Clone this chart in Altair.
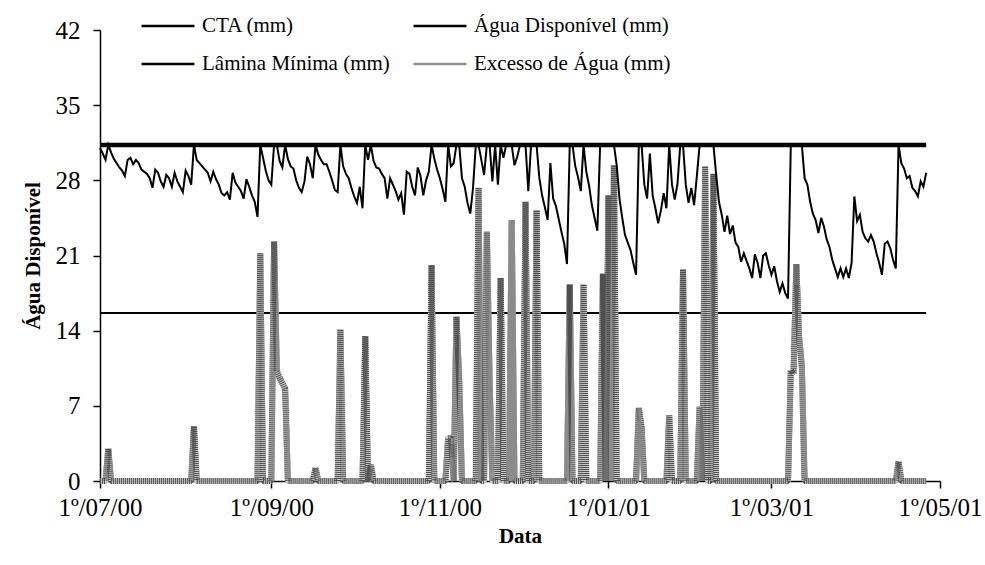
import altair as alt
import pandas as pd

# ---------------- data ----------------
START_DATE = "2000-07-01"

# daily available water (mm), 1 Jul 2000 .. 26 Apr 2001
agua_disponivel = [
    31.0, 30.5, 29.9, 31.3, 30.6, 30.0, 29.6, 29.2, 28.9, 28.4,
    29.9, 30.1, 29.5, 29.9, 29.6, 29.0, 28.8, 28.6, 28.2, 27.3,
    29.0, 28.7, 27.9, 27.4, 28.5, 28.2, 27.4, 28.7, 27.9, 27.4,
    26.9, 28.9, 28.4, 27.6, 31.3, 29.9, 29.6, 29.3, 29.0, 28.7,
    27.9, 28.8, 28.1, 27.6, 26.8, 26.6, 26.9, 26.2, 28.7, 27.8,
    27.4, 27.0, 26.3, 28.1, 27.4, 26.6, 26.0, 24.6, 31.3, 30.1,
    28.9, 28.0, 27.6, 31.3, 31.3, 29.8, 29.2, 31.3, 30.0, 29.3,
    29.1, 28.0, 27.3, 26.9, 27.9, 30.2, 29.5, 28.2, 31.3, 30.4,
    29.9, 29.5, 29.5, 28.8, 28.0, 27.1, 26.9, 31.3, 29.3, 28.6,
    28.2, 27.3, 26.5, 25.9, 27.4, 25.4, 31.3, 29.9, 31.3, 29.8,
    29.2, 29.1, 28.6, 28.2, 26.3, 28.2, 27.6, 27.0, 26.2, 26.8,
    24.8, 28.8, 28.6, 27.4, 26.6, 29.2, 28.4, 26.6, 28.0, 28.8,
    31.3, 30.0, 29.0, 28.2, 27.2, 26.0, 31.3, 29.3, 29.6, 31.3,
    31.3, 28.2, 27.4, 25.9, 24.9, 27.3, 31.3, 31.3, 29.9, 28.5,
    31.3, 31.3, 27.9, 31.3, 27.6, 31.3, 30.1, 31.3, 31.3, 31.3,
    29.4, 30.2, 31.3, 31.3, 31.3, 27.0, 31.3, 31.3, 31.3, 28.2,
    26.6, 25.5, 24.3, 29.6, 26.3, 25.6, 24.4, 23.2, 22.1, 20.2,
    31.3, 31.3, 29.3, 28.3, 27.0, 31.3, 28.8, 27.5, 25.7, 24.5,
    23.3, 31.3, 31.3, 31.3, 31.3, 31.3, 31.3, 29.4, 26.3, 24.5,
    22.9, 22.2, 21.5, 20.3, 19.2, 31.3, 31.3, 27.6, 26.3, 30.5,
    26.6, 25.4, 24.0, 25.2, 26.8, 25.4, 31.3, 27.6, 26.2, 27.7,
    31.3, 31.3, 27.6, 25.9, 27.3, 25.7, 28.4, 31.3, 31.3, 31.3,
    31.3, 31.3, 31.3, 28.5, 26.0, 24.8, 23.2, 24.7, 23.0, 23.8,
    22.2, 21.8, 20.4, 21.2, 20.5, 19.8, 18.9, 21.1, 20.3, 18.9,
    21.0, 21.2, 20.1, 19.2, 20.0, 18.6, 17.6, 18.4, 17.5, 17.0,
    31.3, 31.3, 31.3, 31.3, 31.3, 28.2, 27.6, 26.0, 24.9, 24.3,
    23.1, 24.5, 23.7, 22.5, 21.8, 20.6, 19.8, 19.0, 19.8, 19.0,
    19.8, 18.9, 20.3, 26.5, 24.2, 24.8, 23.2, 22.6, 22.3, 22.9,
    22.3, 21.2, 20.3, 19.2, 22.1, 22.3, 21.7, 20.6, 19.8, 31.3,
    29.6, 29.1, 28.2, 28.4, 27.3, 27.0, 26.5, 27.9, 27.4, 28.7,
]

# days (counted from START_DATE) with water excess, and the excess (mm)
excesso_dias = [3, 34, 58, 63, 64, 65, 66, 67, 78, 87, 96, 98, 120, 126, 127,
                129, 130, 137, 140, 141, 145, 149, 154, 158, 170, 175, 182,
                184, 186, 195, 196, 206, 211, 217, 219, 222, 250, 251, 252,
                253, 254, 289]
excesso_valores = [3.0, 5.1, 21.2, 22.3, 10.2, 9.6, 9.1, 8.6, 1.2, 14.1, 13.5,
                   1.5, 20.1, 4.0, 4.0, 15.3, 9.4, 27.3, 23.2, 9.3, 18.9, 24.3,
                   26.0, 25.2, 18.3, 18.3, 19.3, 26.6, 29.4, 6.8, 5.0, 6.1,
                   19.7, 6.9, 29.3, 28.6, 10.3, 10.0, 20.2, 13.4, 10.7, 1.8]

CTA_MM = 31.3
LAMINA_MINIMA_MM = 15.65

# legend order (laid out column by column: CTA / Lâmina, then Água / Excesso)
series_names = ["CTA (mm)", "Lâmina Mínima (mm)",
                "Água Disponível (mm)", "Excesso de Água (mm)"]
series_colors = ["black", "black", "black", "#8f8f8f"]
y_ticks = [0, 7, 14, 21, 28, 35, 42]
x_tick_dates = [(2000, 7), (2000, 9), (2000, 11), (2001, 1), (2001, 3), (2001, 5)]

# ---------------- table ----------------
dates = pd.date_range(START_DATE, periods=len(agua_disponivel), freq="D").strftime("%Y-%m-%d")
excesso = [0.0] * len(agua_disponivel)
for d, v in zip(excesso_dias, excesso_valores):
    excesso[d] = v

CTA_S, LAM_S, AGUA_S, EXC_S = series_names
rows = []
for i, dte in enumerate(dates):
    rows.append({"date": dte, "serie": CTA_S, "value": CTA_MM})
    rows.append({"date": dte, "serie": AGUA_S, "value": agua_disponivel[i]})
    rows.append({"date": dte, "serie": LAM_S, "value": LAMINA_MINIMA_MM})
    rows.append({"date": dte, "serie": EXC_S, "value": excesso[i]})
df = pd.DataFrame(rows)

FONT = "Liberation Serif"

def dt(y, m):
    return alt.DateTime(year=y, month=m, date=1, utc=True)

x_enc = alt.X(
    "date:T",
    scale=alt.Scale(type="utc", domain=[dt(2000, 7), dt(2001, 5)]),
    axis=alt.Axis(
        values=[dt(y, m) for y, m in x_tick_dates],
        labelExpr="utcFormat(datum.value, '1º/%m/%y')",
        labelFlush=False, labelOverlap=False,
        title="Data", grid=False,
        labelFont=FONT, labelFontSize=25, labelColor="black", labelPadding=7,
        tickSize=7, tickColor="black", tickWidth=1.5,
        domainColor="black", domainWidth=1.5,
        titleFont=FONT, titleFontSize=21, titleFontWeight="bold",
        titleColor="black", titlePadding=5,
    ),
)
y_enc = alt.Y(
    "value:Q",
    scale=alt.Scale(domain=[0, 42], nice=False),
    axis=alt.Axis(
        values=y_ticks, title="Água Disponível", grid=False,
        labelFont=FONT, labelFontSize=25, labelColor="black", labelPadding=13,
        tickSize=7, tickColor="black", tickWidth=1.5,
        domainColor="black", domainWidth=1.5,
        titleFont=FONT, titleFontSize=21, titleFontWeight="bold",
        titleColor="black", titlePadding=12,
    ),
)
color_enc = alt.Color(
    "serie:N",
    scale=alt.Scale(domain=series_names, range=series_colors),
    legend=alt.Legend(
        title=None, orient="none", legendX=40, legendY=-32, columns=2,
        columnPadding=18, rowPadding=0,
        symbolType="stroke", symbolSize=2800, symbolStrokeWidth=2.5,
        labelFont=FONT, labelFontSize=21, labelColor="black",
        labelOffset=6, labelLimit=0,
    ),
)

base = alt.Chart(df)

def sel(name):
    return alt.datum.serie == name

lamina = base.transform_filter(sel(LAM_S)).mark_line(strokeWidth=2).encode(
    x=x_enc, y=y_enc, color=color_enc)
exc = base.transform_filter(sel(EXC_S)).mark_line(
    strokeWidth=6, strokeJoin="bevel").encode(
    x=x_enc, y=y_enc,
    color=alt.Color("serie:N", scale=alt.Scale(domain=series_names, range=series_colors),
                    legend=None))
exc_base = base.transform_filter(sel(EXC_S)).mark_line(
    strokeWidth=6, strokeJoin="bevel", color="#c8c8c8").encode(x=x_enc, y=y_enc)
exc_hatch = base.transform_filter(sel(EXC_S)).mark_line(
    strokeWidth=6, color="#4f4f4f", strokeDash=[1, 1], strokeJoin="bevel").encode(
    x=x_enc, y=y_enc)
agua = base.transform_filter(sel(AGUA_S)).mark_line(strokeWidth=2).encode(
    x=x_enc, y=y_enc, color=color_enc)
cta = base.transform_filter(sel(CTA_S)).mark_line(strokeWidth=4.5).encode(
    x=x_enc, y=y_enc, color=color_enc)

chart = alt.layer(lamina, exc, exc_base, exc_hatch, agua, cta).properties(
    width=840, height=451,
    padding={"left": 100, "top": 30, "right": 45, "bottom": 84},
    autosize=alt.AutoSizeParams(type="none"),
    background="white",
).configure_view(stroke=None)

chart.save("out.html", embed_options={"renderer": "svg", "actions": False})
